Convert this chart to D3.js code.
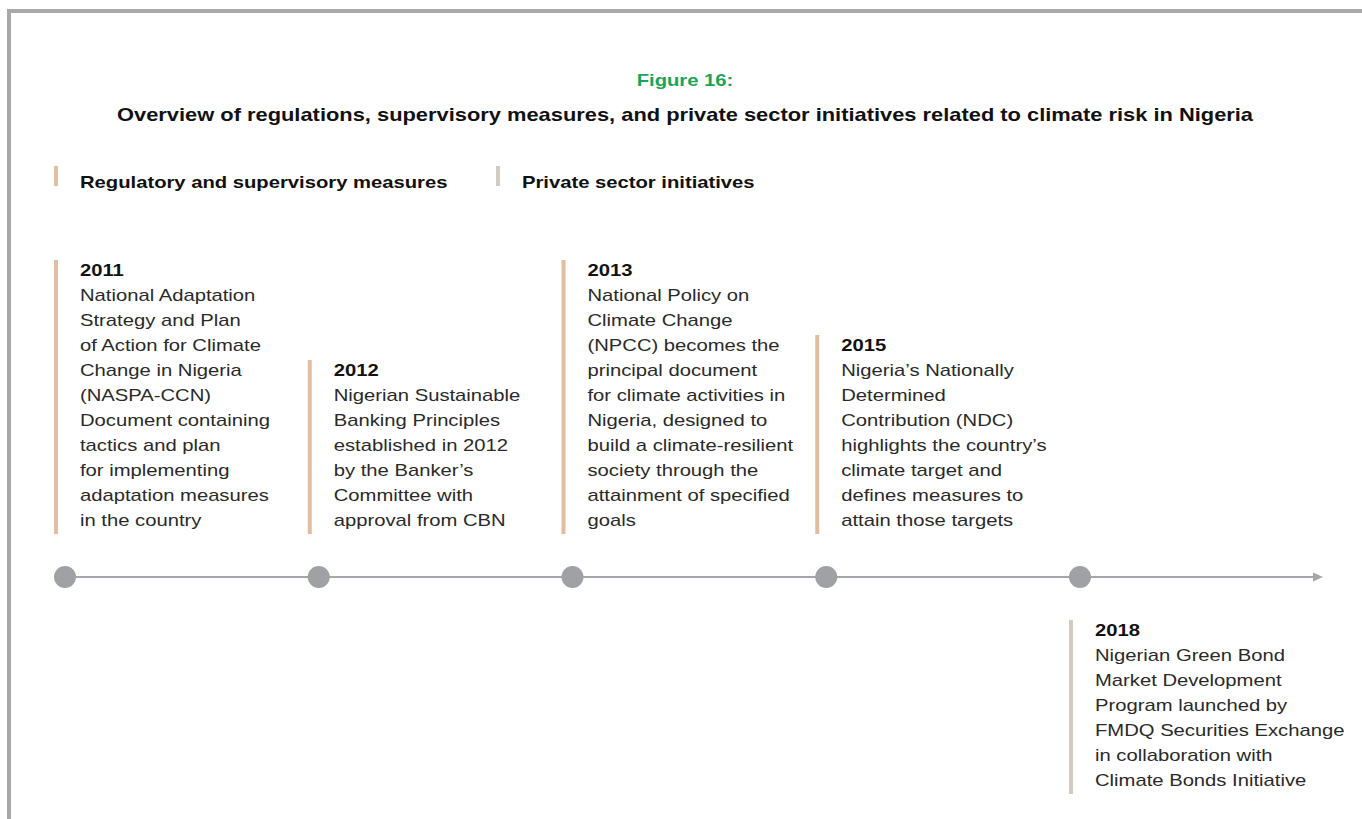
<!DOCTYPE html>
<meta charset="utf-8">
<script src="https://d3js.org/d3.v7.min.js"></script>
<style>
  body { margin: 0; background: #fff; }
  text { font-family: "Liberation Sans", Arial, Helvetica, sans-serif; }
</style>
<svg id="chart" width="1362" height="819"></svg>

<script>
  // data
  var years = ["2011", "2012", "2013", "2015", "2018"];
  var kinds = ["reg", "reg", "reg", "reg", "private"];
  var sides = ["above", "above", "above", "above", "below"];
  var descriptions = [
    ["National Adaptation", "Strategy and Plan", "of Action for Climate", "Change in Nigeria",
     "(NASPA-CCN)", "Document containing", "tactics and plan", "for implementing",
     "adaptation measures", "in the country"],
    ["Nigerian Sustainable", "Banking Principles", "established in 2012", "by the Banker\u2019s",
     "Committee with", "approval from CBN"],
    ["National Policy on", "Climate Change", "(NPCC) becomes the", "principal document",
     "for climate activities in", "Nigeria, designed to", "build a climate-resilient",
     "society through the", "attainment of specified", "goals"],
    ["Nigeria\u2019s Nationally", "Determined", "Contribution (NDC)", "highlights the country\u2019s",
     "climate target and", "defines measures to", "attain those targets"],
    ["Nigerian Green Bond", "Market Development", "Program launched by",
     "FMDQ Securities Exchange", "in collaboration with", "Climate Bonds Initiative"]
  ];
  var legendLabels = ["Regulatory and supervisory measures", "Private sector initiatives"];
  var legendKinds = ["reg", "private"];

  var events = years.map(function(y, i) {
    return { year: y, kind: kinds[i], side: sides[i], lines: descriptions[i] };
  });

  var svg = d3.select("#chart");
  var color = d3.scaleOrdinal().domain(["reg", "private"]).range(["#e2bea0", "#d3cbbe"]);
  var x = d3.scalePoint().domain(years).range([65, 1080]);

  var sx = 1.19;   // the source font is wide
  var lineH = 25;
  var axisY = 577;
  var lastBase = 526;   // baseline of the last line of blocks above the axis
  var belowYear = 636;  // baseline of the year of blocks below the axis

  function stretched(sel, px, py, k) {
    return sel.attr("transform", "translate(" + px + "," + py + ") scale(" + (k || sx) + ",1)");
  }

  // frame
  svg.append("path")
    .attr("d", "M9,819 V11 H1362")
    .attr("fill", "none")
    .attr("stroke", "#a8a8aa")
    .attr("stroke-width", 4);

  // titles
  stretched(svg.append("text"), 685, 86)
    .attr("text-anchor", "middle")
    .style("font-size", "17px")
    .style("font-weight", "bold")
    .style("fill", "#17a55a")
    .text("Figure 16:");

  stretched(svg.append("text"), 685, 121, 1.25)
    .attr("text-anchor", "middle")
    .style("font-size", "17.5px")
    .style("font-weight", "bold")
    .style("fill", "#111")
    .text("Overview of regulations, supervisory measures, and private sector initiatives related to climate risk in Nigeria");

  // legend
  var legendX = d3.scaleOrdinal().domain(legendKinds).range([54, 496]);
  var leg = svg.selectAll(".leg")
    .data(legendKinds)
    .enter()
    .append("g");
  leg.append("rect")
    .attr("x", function(d) { return legendX(d); })
    .attr("y", 166)
    .attr("width", 4)
    .attr("height", 20)
    .attr("fill", function(d) { return color(d); });
  leg.each(function(d, i) {
    stretched(d3.select(this).append("text"), legendX(d) + 26, 188)
      .style("font-size", "17px")
      .style("font-weight", "bold")
      .style("fill", "#111")
      .text(legendLabels[i]);
  });

  // timeline axis
  svg.append("line")
    .attr("x1", x(years[0]))
    .attr("x2", 1316)
    .attr("y1", axisY)
    .attr("y2", axisY)
    .attr("stroke", "#a6a7aa")
    .attr("stroke-width", 2);
  svg.append("path")
    .attr("d", "M1313," + (axisY - 4.5) + " L1323," + axisY + " L1313," + (axisY + 4.5) + " Z")
    .attr("fill", "#a6a7aa");

  svg.selectAll(".dot")
    .data(events)
    .enter()
    .append("circle")
      .attr("cx", function(d) { return x(d.year); })
      .attr("cy", axisY)
      .attr("r", 11)
      .attr("fill", "#a0a1a4");

  // event blocks: y of the year baseline
  function yearBase(d) {
    return d.side === "above" ? lastBase - lineH * d.lines.length : belowYear;
  }

  var blocks = svg.selectAll(".ev")
    .data(events)
    .enter()
    .append("g")
      .attr("transform", function(d) {
        return "translate(" + (x(d.year) - 11) + "," + (yearBase(d) - 16) + ")";
      });

  blocks.append("rect")
    .attr("width", 4)
    .attr("height", function(d) { return lineH * d.lines.length + 24; })
    .attr("fill", function(d) { return color(d.kind); });

  blocks.each(function(d) {
    var g = d3.select(this);
    stretched(g.append("text"), 26, 16)
      .style("font-size", "17px")
      .style("font-weight", "bold")
      .style("fill", "#111")
      .text(d.year);
    d.lines.forEach(function(t, i) {
      stretched(g.append("text"), 26, 16 + lineH * (i + 1))
        .style("font-size", "17px")
        .style("fill", "#2a2a2a")
        .text(t);
    });
  });
</script>
